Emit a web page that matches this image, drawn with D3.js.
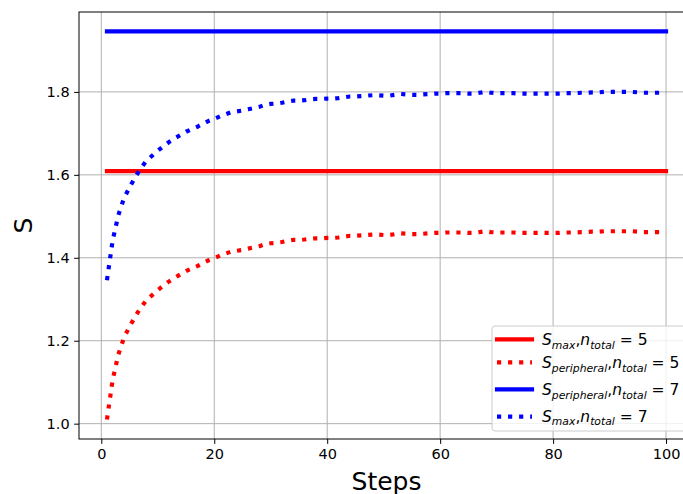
<!DOCTYPE html>
<html>
<head>
<meta charset="utf-8">
<script src="https://cdn.jsdelivr.net/npm/d3@7"></script>
<style>
  body { margin: 0; background: #fff; }
  svg { display: block; font-family: "DejaVu Sans", sans-serif; }
</style>
</head>
<body>
<script>
// steps 1..100
var steps = d3.range(1, 101);

// dotted red curve (n_total = 5)
var dotted5 = [
  1.010, 1.105, 1.166, 1.207, 1.234, 1.258, 1.280, 1.298, 1.310, 1.322,
  1.333, 1.343, 1.352, 1.360, 1.368, 1.374, 1.380, 1.387, 1.394, 1.399,
  1.405, 1.410, 1.415, 1.417, 1.419, 1.422, 1.425, 1.428, 1.433, 1.435,
  1.436, 1.438, 1.441, 1.443, 1.443, 1.444, 1.446, 1.447, 1.447, 1.448,
  1.448, 1.449, 1.451, 1.453, 1.453, 1.454, 1.455, 1.456, 1.456, 1.455,
  1.455, 1.457, 1.459, 1.458, 1.457, 1.457, 1.458, 1.459, 1.460, 1.460,
  1.461, 1.461, 1.461, 1.461, 1.460, 1.460, 1.462, 1.464, 1.462, 1.461,
  1.461, 1.461, 1.461, 1.460, 1.460, 1.460, 1.460, 1.460, 1.460, 1.460,
  1.460, 1.461, 1.461, 1.461, 1.462, 1.462, 1.463, 1.463, 1.464, 1.464,
  1.464, 1.464, 1.464, 1.464, 1.463, 1.462, 1.462, 1.462, 1.462, 1.461
];

// dotted blue curve (n_total = 7)
var dotted7 = [
  1.346, 1.441, 1.502, 1.543, 1.570, 1.594, 1.616, 1.634, 1.646, 1.658,
  1.669, 1.679, 1.688, 1.696, 1.704, 1.710, 1.716, 1.723, 1.730, 1.735,
  1.741, 1.746, 1.751, 1.753, 1.755, 1.758, 1.761, 1.764, 1.769, 1.771,
  1.772, 1.774, 1.777, 1.779, 1.779, 1.780, 1.782, 1.783, 1.783, 1.784,
  1.784, 1.785, 1.787, 1.789, 1.789, 1.790, 1.791, 1.792, 1.792, 1.791,
  1.791, 1.793, 1.795, 1.794, 1.793, 1.793, 1.794, 1.795, 1.796, 1.796,
  1.797, 1.797, 1.797, 1.797, 1.796, 1.796, 1.798, 1.800, 1.798, 1.797,
  1.797, 1.797, 1.797, 1.796, 1.796, 1.796, 1.796, 1.796, 1.796, 1.796,
  1.796, 1.797, 1.797, 1.797, 1.798, 1.798, 1.799, 1.799, 1.800, 1.800,
  1.800, 1.800, 1.800, 1.800, 1.799, 1.798, 1.798, 1.798, 1.798, 1.797
];

// flat lines
var flat5 = 1.609,
    flat7 = 1.946;

var xTicks = [0, 20, 40, 60, 80, 100],
    yTicks = [1.0, 1.2, 1.4, 1.6, 1.8];

var legendLabels = [
  [["S", "max"], ["n", "total"], "5"],
  [["S", "peripheral"], ["n", "total"], "5"],
  [["S", "peripheral"], ["n", "total"], "7"],
  [["S", "max"], ["n", "total"], "7"]
];

var width = 683,
    height = 494;

var plotLeft = 79, plotRight = 694, plotTop = 12, plotBottom = 439;

var x = d3.scaleLinear().domain([-3.95, 104.95]).range([plotLeft, plotRight]);
var y = d3.scaleLinear().domain([0.963, 1.9927]).range([plotBottom, plotTop]);

var svg = d3.select("body")
            .append("svg")
            .attr("width", width)
            .attr("height", height);

// grid
var grid = svg.append("g").attr("stroke", "#b0b0b0").attr("stroke-width", 1);
grid.selectAll(".gx").data(xTicks).enter().append("line")
    .attr("x1", function(d){ return x(d); }).attr("x2", function(d){ return x(d); })
    .attr("y1", plotTop).attr("y2", plotBottom);
grid.selectAll(".gy").data(yTicks).enter().append("line")
    .attr("x1", plotLeft).attr("x2", plotRight)
    .attr("y1", function(d){ return y(d); }).attr("y2", function(d){ return y(d); });

var plot = svg.append("g");

var line = d3.line()
             .x(function(d, i){ return x(steps[i]); })
             .y(function(d){ return y(d); });

var series = [
  {vals: steps.map(function(){ return flat5; }), color: "#ff0000", dotted: false},
  {vals: dotted5, color: "#ff0000", dotted: true},
  {vals: steps.map(function(){ return flat7; }), color: "#0000ff", dotted: false},
  {vals: dotted7, color: "#0000ff", dotted: true}
];

plot.selectAll("path")
    .data(series)
    .enter()
    .append("path")
    .attr("d", function(d){ return line(d.vals); })
    .attr("fill", "none")
    .attr("stroke", function(d){ return d.color; })
    .attr("stroke-width", 4.17)
    .attr("stroke-linecap", function(d){ return d.dotted ? "butt" : "square"; })
    .attr("stroke-dasharray", function(d){ return d.dotted ? "4.17 6.88" : null; });

// axes
var xAxis = d3.axisBottom(x).tickValues(xTicks).tickSize(4.86).tickPadding(4.5)
              .tickFormat(d3.format("d"));
var yAxis = d3.axisLeft(y).tickValues(yTicks).tickSize(4.86).tickPadding(4.5)
              .tickFormat(d3.format(".1f"));

var gx = svg.append("g").attr("transform", "translate(0," + plotBottom + ")").call(xAxis);
var gy = svg.append("g").attr("transform", "translate(" + plotLeft + ",0)").call(yAxis);
[gx, gy].forEach(function(g){
  g.select(".domain").remove();
  g.selectAll("text").attr("font-family", "DejaVu Sans").attr("font-size", 14.5).attr("fill", "#000");
  g.selectAll("line").attr("stroke", "#000").attr("stroke-width", 1);
});

// frame
svg.append("rect")
   .attr("x", plotLeft).attr("y", plotTop)
   .attr("width", plotRight - plotLeft).attr("height", plotBottom - plotTop)
   .attr("fill", "none").attr("stroke", "#000").attr("stroke-width", 1);

// axis labels
svg.append("text")
   .attr("x", (plotLeft + plotRight) / 2).attr("y", 490)
   .attr("text-anchor", "middle")
   .attr("font-size", 25)
   .text("Steps");

svg.append("text")
   .attr("transform", "translate(32," + (plotTop + plotBottom) / 2 + ") rotate(-90)")
   .attr("text-anchor", "middle")
   .attr("font-size", 25)
   .text("S");

// legend
var lg = svg.append("g").attr("transform", "translate(492,326)");
lg.append("rect")
  .attr("width", 194).attr("height", 105).attr("rx", 3)
  .attr("fill", "#fff").attr("fill-opacity", 0.8)
  .attr("stroke", "#cccccc").attr("stroke-width", 1);

var handleY = [13.3, 36.3, 63.3, 90.7],
    textY = [19, 42.3, 69, 95.7];

series.forEach(function(s, i){
  lg.append("line")
    .attr("x1", 5).attr("x2", 40)
    .attr("y1", handleY[i]).attr("y2", handleY[i])
    .attr("stroke", s.color).attr("stroke-width", 4.17)
    .attr("stroke-linecap", s.dotted ? "butt" : "square")
    .attr("stroke-dasharray", s.dotted ? "4.17 6.88" : null);

  var lab = legendLabels[i];
  var t = lg.append("text").attr("x", 50).attr("y", textY[i]).attr("font-size", 15.5);
  t.append("tspan").attr("font-style", "italic").text(lab[0][0]);
  t.append("tspan").attr("font-style", "italic").attr("font-size", 10.8).attr("dy", 3.5).text(lab[0][1]);
  t.append("tspan").attr("dy", -3.5).text(",");
  t.append("tspan").attr("font-style", "italic").text(lab[1][0]);
  t.append("tspan").attr("font-style", "italic").attr("font-size", 10.8).attr("dy", 3.5).text(lab[1][1]);
  t.append("tspan").attr("dy", -3.5).text(" = " + lab[2]);
});
</script>
</body>
</html>
